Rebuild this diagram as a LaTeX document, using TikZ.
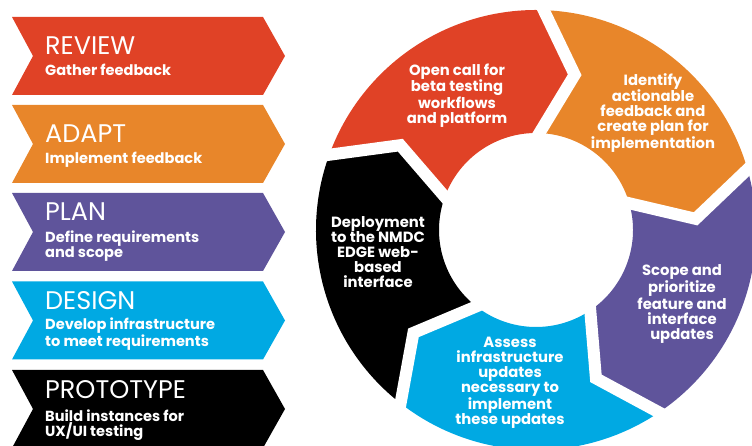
\documentclass[tikz,border=0pt]{standalone}
\usepackage{fontspec}
\setmainfont{Poppins}
\usepackage{xcolor}
\definecolor{reviewred}{RGB}{224,66,38}
\definecolor{adaptorange}{RGB}{232,134,42}
\definecolor{planpurple}{RGB}{95,84,155}
\definecolor{designblue}{RGB}{0,169,227}

\begin{document}
\begin{tikzpicture}[x=1pt, y=1pt,
  stagehead/.style={anchor=base west, inner sep=0pt, text=white, font=\fontsize{25.5}{25.5}\selectfont},
  stagesub/.style={anchor=base west, inner sep=0pt, text=white, align=left, font=\bfseries\fontsize{14.6}{15}\selectfont},
  cycletext/.style={inner sep=0pt, text=white, align=center, font=\bfseries\fontsize{14.8}{15}\selectfont}]
\useasboundingbox (0,0) rectangle (752,446);
% Draw the five stage banners on the left, with their names and tasks
% (the base of a task text is the base of its last line)
\foreach \ytop/\col/\name/\head/\sub/\dh/\ds in {
    429/reviewred/review/REVIEW/{Gather feedback}/37.5/58.5,
    341/adaptorange/adapt/ADAPT/{Implement feedback}/37.5/58.5,
    253/planpurple/plan/PLAN/{Define requirements\\and scope}/27.5/64.5,
    164.5/designblue/design/DESIGN/{Develop infrastructure\\to meet requirements}/28.5/65,
    76/black/prototype/PROTOTYPE/{Build instances for\\UX/UI testing}/29/67}
{
  \fill[\col] (12,\ytop) -- (263,\ytop) -- (285,\ytop-39) -- (263,\ytop-78) -- (12,\ytop-78) -- (33,\ytop-39) -- cycle;
  \node[stagehead] (\name-head) at (45,\ytop-\dh) {\head};
  \node[stagesub] (\name-sub) at (45,\ytop-\ds) {\sub};
}
% Draw the ring of five segments around the centre, each pointing clockwise
\begin{scope}[shift={(536,216)}]
\foreach \a/\col in {160/reviewred, 88/adaptorange, 16/planpurple, -56/designblue, -128/black}
  \fill[\col] (\a:220) arc[start angle=\a, end angle=\a-72, radius=220] -- ({\a-84}:160)
    -- ({\a-72}:97) arc[start angle=\a-72, end angle=\a, radius=97] -- ({\a-12}:160) -- cycle;
% Cut the white gaps between the segments
\foreach \b in {160, 88, 16, -56, -128}
  \draw[white, line width=12pt, line cap=rect, line join=miter] (\b:220) -- ({\b-12}:160) -- (\b:97);
\end{scope}
% Label the ring segments
\node[cycletext] (opencall) at (457,350.5) {Open call for\\beta testing\\workflows\\and platform};
\node[cycletext] (identify) at (653,333) {Identify\\actionable\\feedback and\\create plan for\\implementation};
\node[cycletext] (scope) at (682,142) {Scope and\\prioritize\\feature and\\interface\\updates};
\node[cycletext] (assess) at (510,63) {Assess\\infrastructure\\updates\\necessary to\\implement\\these updates};
\node[cycletext] (deploy) at (378,194) {Deployment\\to the NMDC\\EDGE web-\\based\\interface};
\end{tikzpicture}
\end{document}
